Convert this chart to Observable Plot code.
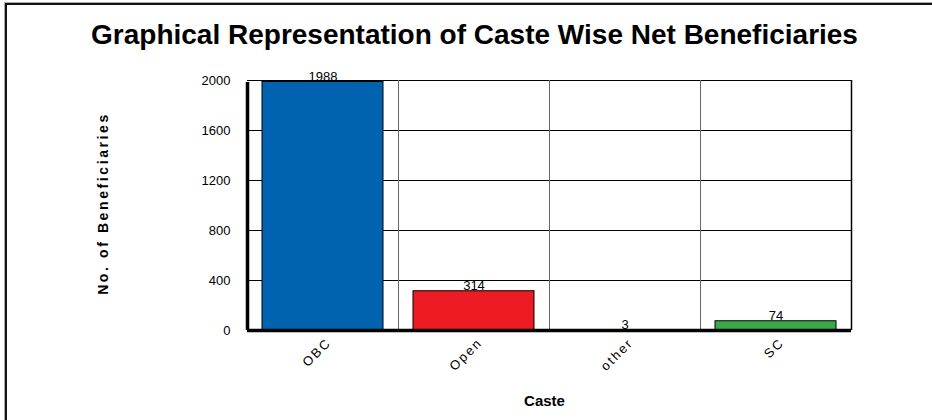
<!DOCTYPE html>
<html><head><meta charset="utf-8">
<script src="https://cdn.jsdelivr.net/npm/d3@7"></script>
<script src="https://cdn.jsdelivr.net/npm/@observablehq/plot@0.6"></script>
<style>
body{margin:0;background:#fff;}
#wrap{position:relative;width:932px;height:420px;overflow:hidden;background:#fff;}
#border{position:absolute;left:5px;top:3px;width:960px;height:460px;border-left:2px solid #111;border-top:2px solid #111;box-shadow:-1px -1px 0 #aaa;pointer-events:none;}
#chart{position:absolute;left:0;top:0;}
svg text{font-family:"Liberation Sans",Arial,sans-serif;}
g[aria-label="x-axis tick label"] text{letter-spacing:2px;}
</style></head><body><div id="wrap"><div id="chart"></div><div id="border"></div></div>
<script>
const categories = ["OBC", "Open", "other", "SC"];
const beneficiaries = [1988, 314, 3, 74];
const barColors = ["#0063af", "#ed1c24", "#f2d31b", "#3aaa49"];
const yTicks = [0, 400, 800, 1200, 1600, 2000];
const titleText = "Graphical Representation of Caste Wise Net Beneficiaries";
const xTitle = "Caste";
const yTitle = "No. of Beneficiaries";

const data = categories.map((c, i) => ({caste: c, value: beneficiaries[i]}));
const W = 932, H = 420, mL = 247, mR = 81, mT = 80, mB = 90;
const step = (W - mL - mR) / categories.length;

const plot = Plot.plot({
  width: W, height: H,
  marginLeft: mL, marginRight: mR, marginTop: mT, marginBottom: mB,
  style: {background: "transparent", fontFamily: "'Liberation Sans', Arial, sans-serif", fontSize: "13px", color: "#000", overflow: "visible"},
  x: {domain: categories, paddingInner: 0.2, paddingOuter: 0.1, label: null},
  y: {domain: [0, 2000], ticks: yTicks, label: null},
  color: {domain: categories, range: barColors},
  marks: [
    Plot.gridY(yTicks, {stroke: "#000", strokeOpacity: 1, strokeWidth: 1}),
    Plot.ruleX(categories.slice(1), {x: d => d, dx: -step / 2, stroke: "#666", strokeOpacity: 1}),
    Plot.ruleX(categories.slice(-1), {x: d => d, dx: step / 2, stroke: "#000", strokeWidth: 1.5}),
    Plot.barY(data, {x: "caste", y: "value", fill: "caste", stroke: "#000", strokeWidth: 1}),
    Plot.text(data, {x: "caste", y: "value", text: d => String(d.value), lineAnchor: "bottom", dy: -1, fontSize: 13, fill: "#000"}),
    Plot.ruleY([0], {stroke: "#000", strokeWidth: 3.5}),
    Plot.ruleX(categories.slice(0, 1), {x: d => d, dx: -step / 2, stroke: "#000", strokeWidth: 3.5, y1: 0, y2: 2000, insetBottom: -2}),
    Plot.axisY({ticks: yTicks, tickSize: 0, tickPadding: 17, fontSize: 13, tickFormat: d3.format("d"), label: null}),
    Plot.axisX({tickSize: 0, tickPadding: 10, tickRotate: -45, fontSize: 13, dx: 6, label: null}),
    Plot.text([titleText], {frameAnchor: "top-left", dx: 227, dy: -37, lineAnchor: "bottom", textAnchor: "middle", fontSize: 28, fontWeight: "bold", fill: "#000"}),
    Plot.text([xTitle], {frameAnchor: "bottom-left", dx: 297, dy: 75, lineAnchor: "bottom", textAnchor: "middle", fontSize: 15, fontWeight: "bold", fill: "#000"}),
    Plot.text([yTitle], {frameAnchor: "left", dx: -144, dy: -2, rotate: -90, textAnchor: "middle", lineAnchor: "middle", fontSize: 14, fontWeight: "bold", fill: "#000"})
  ]
});
d3.select(plot).selectAll("text")
  .filter(function () { return this.textContent === yTitle; })
  .style("letter-spacing", "2.6px");
document.getElementById("chart").appendChild(plot);
</script>
</body></html>
